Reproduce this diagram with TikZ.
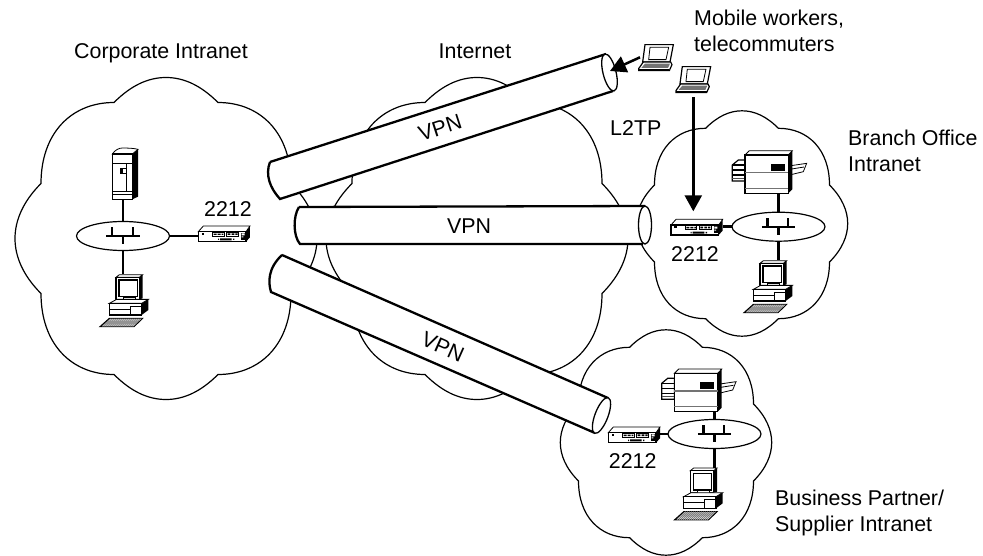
\documentclass[tikz,border=0pt]{standalone}
\usepackage{fontspec}
\setmainfont{Liberation Sans}
\usetikzlibrary{shapes.geometric,arrows.meta}
\tikzset{
 x=1pt,y=-1pt,
 lbl/.style={font=\fontsize{21.4}{25.5}\selectfont,align=left,inner sep=0pt,text=black},
 devbox/.style={inner sep=0pt,outer sep=0pt},
 hubnode/.style={ellipse,draw=black,line width=1.2pt,fill=white,minimum width=93pt,minimum height=29pt,inner sep=0pt,outer sep=0pt},
 link/.style={line width=2.5pt,black},
 flow/.style={line width=2.5pt,black,-{Triangle[length=16pt,width=17pt]}},
 cloudline/.style={line width=1.2pt,black},
 tubeline/.style={line width=2.3pt,black},
 tubeend/.style={line width=1.3pt,black,fill=white},
 thin part/.style={line width=0.8pt,black},
 cloudshape/.pic={
  \draw[cloudline,fill=white] (-52,-136)
   .. controls (-35,-153) and (-18,-161) .. (0,-161)
   .. controls (18,-161) and (35,-153) .. (52,-136)
   .. controls (95,-136) and (125,-105) .. (125,-55)
   .. controls (143,-37) and (151,-18) .. (151,0)
   .. controls (151,18) and (143,37) .. (125,55)
   .. controls (125,105) and (95,136) .. (52,136)
   .. controls (35,153) and (18,161) .. (0,161)
   .. controls (-18,161) and (-35,153) .. (-52,136)
   .. controls (-95,136) and (-125,105) .. (-125,55)
   .. controls (-143,37) and (-151,18) .. (-151,0)
   .. controls (-151,-18) and (-143,-37) .. (-125,-55)
   .. controls (-125,-105) and (-95,-136) .. (-52,-136) -- cycle;
 },
 hubsym/.pic={
  \draw[line width=2.2pt] (-50,1)--(50,1) (-33,-26)--(-33,1) (29,-26)--(29,1) (0,1)--(0,24);
 },
 serverpic/.pic={
  \fill[black] (22,-60)--(39,-74)--(39,68)--(22,76)--cycle;
  \draw[thin part,fill=white] (-38,-60) .. controls (-30,-72) and (-18,-78) .. (-8,-78) .. controls (10,-78) and (28,-77) .. (39,-74) -- (22,-60) -- cycle;
  \draw[line width=1.2pt,fill=white] (-38,-60) rectangle (22,76);
  \draw[thin part] (-38,-32)--(22,-32) (4,-32)--(4,53) (-38,53)--(22,53) (-38,60)--(22,60);
  \draw[thin part] (-13,-17) rectangle (4,-2);
  \fill[black] (-13,-17) rectangle (-7,-2);
 },
 routerpic/.pic={
  \fill[black] (66,-7)--(78,-24)--(78,10)--(66,23)--cycle;
  \draw[thin part,fill=white] (-77,-7)--(-62,-24)--(78,-24)--(66,-7)--cycle;
  \draw[line width=1.2pt,fill=white] (-77,-7) rectangle (66,23);
  \fill[black] (-67,-4) rectangle (-60,3);
  \draw[thin part] (-34,-5) rectangle (0,6) (8,-5) rectangle (43,6);
  \fill[black] (-31,-1) rectangle (-22,3) (-19,-1) rectangle (-10,3) (-7,-1) rectangle (-2,3)
   (11,-2) rectangle (19,3) (23,-2) rectangle (31,3) (34,-2) rectangle (41,3)
   (-12,13) rectangle (23,19) (-18,14) rectangle (-15,18) (27,14) rectangle (31,18);
  \fill[black] (51,-4) rectangle (64,18);
  \fill[white] (53,-2) rectangle (62,4) (53,7) rectangle (58,10);
 },
 printerpic/.pic={
  \draw[thin part,fill=white] (75,-17)--(130,-25)--(120,0)--(78,10)--cycle;
  \draw[thin part] (78,-7)--(122,-14);
  \draw[line width=1.2pt,fill=white] (-93,-20)--(-75,-35)--(-55,-35)--(-55,28)--(-93,28)--cycle;
  \draw[line width=1.2pt] (-93,-20)--(-55,-20) (-93,-5)--(-55,-5) (-93,10)--(-55,10);
  \fill[black!70] (-93,18) rectangle (-55,22);
  \fill[black] (75,-50)--(87,-63)--(87,53)--(75,65)--cycle;
  \draw[thin part,fill=white] (-55,-50)--(-42,-63)--(87,-63)--(75,-50)--cycle;
  \draw[line width=1.2pt,fill=white] (-55,-50) rectangle (75,65);
  \draw[line width=1.3pt,black!55] (-55,3)--(75,3) (-55,50)--(75,50);
  \fill[black] (23,-23) rectangle (65,-3);
 },
 computerpic/.pic={
  \fill[black] (48,-70)--(58,-78)--(58,-7)--(48,-4)--cycle;
  \draw[thin part,fill=white] (-22,-70)--(-12,-78)--(58,-78)--(48,-70)--cycle;
  \draw[line width=1.2pt,fill=white] (-22,-70) rectangle (48,-4);
  \draw[line width=1.5pt,fill=white] (-13,-62) rectangle (42,-12);
  \draw[thin part,fill=white] (0,-10) rectangle (35,-2);
  \fill[black] (55,8)--(75,-4)--(75,28)--(55,43)--cycle;
  \draw[thin part,fill=white] (-42,8)--(-20,-4)--(75,-4)--(55,8)--cycle;
  \draw[line width=1.2pt,fill=white] (-42,8) rectangle (55,43);
  \draw[thin part] (-42,26)--(20,26) (20,16)--(55,16) (20,16)--(20,43);
  \draw[line width=1pt,fill=black!55] (-70,78)--(-42,53)--(58,53)--(32,78)--cycle;
  \foreach \k in {0,1,...,15}{\draw[line width=.25pt,white] (-62+6*\k,78)--(-36+6*\k,53);}
 },
 laptoppic/.pic={
  \draw[line width=1.2pt,fill=white] (-33,-38)--(52,-38)--(42,14)--(-40,14)--cycle;
  \draw[thin part,fill=white] (-18,-30)--(38,-30)--(30,7)--(-22,7)--cycle;
  \draw[line width=1.2pt,fill=white] (-52,34)--(-38,14)--(44,14)--(48,22)--(40,40)--(-52,40)--cycle;
  \fill[black!55] (-44,32)--(-33,19)--(42,19)--(36,32)--cycle;
  \fill[black] (-52,35) rectangle (40,40);
 },
}
\begin{document}
\begin{tikzpicture}
\useasboundingbox (0,0) rectangle (983,556);
\fill[white] (0,0) rectangle (983,556);

% clouds
\pic at (166,238.5) {cloudshape};
\pic at (477,238.5) {cloudshape};
\pic[scale=.7] at (742,223.5) {cloudshape};
\pic[scale=.7] at (666,442.5) {cloudshape};

% tubes
\coordinate (ta) at (270,162); \coordinate (tb) at (606,54);
\coordinate (tc) at (613,91);  \coordinate (td) at (280,199);
\fill[white] (ta)--(tb)--(tc)--(td) .. controls (270,188) and (265,175) .. (ta);
\draw[tubeline] (ta)--(tb) (tc)--(td) .. controls (270,188) and (265,175) .. (ta);
\draw[tubeend] (609.5,72.5) ellipse [x radius=6.5,y radius=19,rotate=14];

\coordinate (ua) at (299,207); \coordinate (ub) at (645,206);
\coordinate (uc) at (643,244); \coordinate (ud) at (300,244);
\fill[white] (ua)--(ub)--(uc)--(ud) .. controls (293,236) and (293,216) .. (ua);
\draw[tubeline] (ua)--(ub) (uc)--(ud) .. controls (293,236) and (293,216) .. (ua);
\draw[tubeend] (645,225) ellipse [x radius=6.5,y radius=19];

\coordinate (va) at (282,255); \coordinate (vb) at (608,398);
\coordinate (vc) at (595,433); \coordinate (vd) at (271,292);
\fill[white] (va)--(vb)--(vc)--(vd) .. controls (268,282) and (268,268) .. (va);
\draw[tubeline] (va)--(vb) (vc)--(vd) .. controls (268,282) and (268,268) .. (va);
\draw[tubeend] (601.5,415.5) ellipse [x radius=6.5,y radius=19,rotate=-21];

% tube labels
\node[lbl,rotate=18] (vpnA) at (440,128) {VPN};
\node[lbl] (vpnB) at (469,226) {VPN};
\node[lbl,rotate=-24] (vpnC) at (443,347) {VPN};

% device anchors
\node[hubnode] (hubA) at (123,236) {};
\node[hubnode] (hubB) at (778.5,226.7) {};
\node[hubnode] (hubC) at (714.5,434) {};

\node[devbox,minimum width=26pt,minimum height=52pt] (srvA) at (125,174) {};
\node[devbox,minimum width=52pt,minimum height=16pt] (rtA) at (224,234) {};
\node[devbox,minimum width=48pt,minimum height=53pt] (pcA) at (123.3,300.7) {};
\node[devbox,minimum width=52pt,minimum height=16pt] (rtB) at (696.7,227.3) {};
\node[devbox,minimum width=60pt,minimum height=43pt] (prB) at (763.3,171.7) {};
\node[devbox,minimum width=48pt,minimum height=53pt] (pcB) at (767.3,286.7) {};
\node[devbox,minimum width=52pt,minimum height=16pt] (rtC) at (634,435) {};
\node[devbox,minimum width=60pt,minimum height=43pt] (prC) at (692.7,390) {};
\node[devbox,minimum width=48pt,minimum height=53pt] (pcC) at (697.7,494) {};
\node[devbox,minimum width=32pt,minimum height=28pt] (lapA) at (656,57.3) {};
\node[devbox,minimum width=32pt,minimum height=28pt] (lapB) at (693.3,79.3) {};
\coordinate (tubeMouth) at (610,71);

% connectors
\draw[link] (hubA.north) -- (hubA.north |- srvA.south);
\draw[link] (hubA.south) -- (hubA.south |- pcA.north);
\draw[link] (hubA.east) -- (hubA.east -| rtA.west);
\draw[link] (hubB.north) -- (hubB.north |- prB.south);
\draw[link] (hubB.south) -- (hubB.south |- pcB.north);
\draw[link] (hubB.west) -- (hubB.west -| rtB.east);
\draw[link] (hubC.north) -- (hubC.north |- prC.south);
\draw[link] (hubC.south) -- (hubC.south |- pcC.north);
\draw[link] (hubC.west) -- (hubC.west -| rtC.east);
\draw[flow] (lapA.west) -- (tubeMouth);
\draw[flow,shorten <=4pt,shorten >=8pt] (lapB.south) -- (lapB.south |- rtB.north);

% hub symbols and device drawings
\foreach \h in {hubA,hubB,hubC}{\pic[scale=.3333] at (\h) {hubsym};}
\pic[scale=.3333] at (srvA) {serverpic};
\pic[scale=.3333] at (rtA) {routerpic};
\pic[scale=.3333] at (pcA) {computerpic};
\pic[scale=.3333] at (rtB) {routerpic};
\pic[scale=.3333] at (prB) {printerpic};
\pic[scale=.3333] at (pcB) {computerpic};
\pic[scale=.3333] at (rtC) {routerpic};
\pic[scale=.3333] at (prC) {printerpic};
\pic[scale=.3333] at (pcC) {computerpic};
\pic[scale=.3333] at (lapA) {laptoppic};
\pic[scale=.3333] at (lapB) {laptoppic};

% texts
\node[lbl] (tCorp) at (161,53) {Corporate Intranet};
\node[lbl] (tNet) at (475,51) {Internet};
\node[lbl,anchor=west] (tMob) at (694,31) {Mobile workers,\\telecommuters};
\node[lbl,anchor=west] (tL2) at (610,128) {L2TP};
\node[lbl,anchor=west] (tBr) at (848,151) {Branch Office\\Intranet};
\node[lbl,anchor=west] (tBz) at (775,513) {Business Partner/\\Supplier Intranet};
\node[lbl] (n1) at (228,209) {2212};
\node[lbl] (n2) at (695,254) {2212};
\node[lbl] (n3) at (632.7,461) {2212};
\end{tikzpicture}
\end{document}
